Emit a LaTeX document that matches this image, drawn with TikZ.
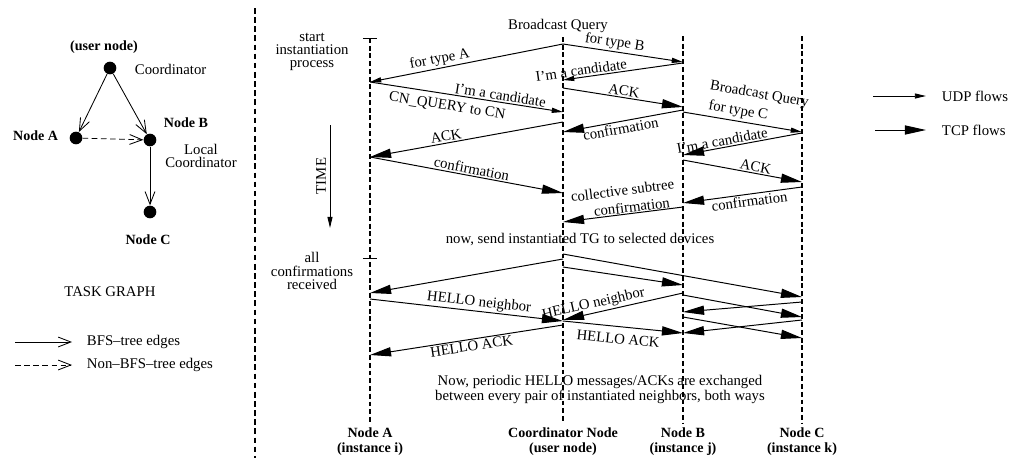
\documentclass[tikz,border=0pt]{standalone}
\usepackage{fontspec}
\setmainfont{Liberation Serif}
\usetikzlibrary{arrows.meta,positioning}

\tikzset{
    lifeline/.style={line width=0.8pt, dash pattern=on 3.5pt off 2pt},
    separator/.style={line width=1.1pt, dash pattern=on 4pt off 2.5pt},
    udp/.style={line width=0.7pt, -{Triangle[length=8pt,width=3.6pt]}},
    tcp/.style={line width=0.7pt, -{Triangle[length=15pt,width=6.5pt]}},
    bfs/.style={line width=0.6pt, -{Straight Barb[length=9pt,width=7pt]}},
    nonbfs/.style={bfs, dash pattern=on 4pt off 2.5pt},
    taskdot/.style={circle, fill, inner sep=0pt, minimum size=9pt},
    msg/.style={sloped, inner sep=1pt},
    head/.style={font=\fontsize{10}{10.6}\bfseries\selectfont},
    note/.style={align=center, font=\fontsize{10.5}{9.5}\selectfont, inner sep=1pt},
}

\begin{document}
\begin{tikzpicture}[x=0.025cm, y=-0.025cm, font=\fontsize{10.5}{12}\selectfont]
    \useasboundingbox (0,0) rectangle (1013,461);

    %task graph
    \node[taskdot] (coord) at (110,68) {};
    \node[taskdot] (na) at (76,138) {};
    \node[taskdot] (nb) at (150,140) {};
    \node[taskdot] (nc) at (150,212) {};
    \node[head] (coordname) at (104,47) {(user node)};
    \node[anchor=west] (coordrole) at (130,69) {Coordinator};
    \node[head, anchor=east] (naname) at (63,136) {Node A};
    \node[head] (nbname) at (186,123) {Node B};
    \node[note] (nbrole) at (201,156) {Local\\Coordinator};
    \node[head] (ncname) at (148,240) {Node C};
    \draw[bfs] (coord) -- (na);
    \draw[bfs] (coord) -- (nb);
    \draw[nonbfs] (na) -- (nb);
    \draw[bfs] (nb) -- (nc);
    \node (taskgraph) at (110,292) {TASK GRAPH};

    %legend task graph
    \coordinate (bfs0) at (15,342);
    \coordinate (bfs1) at (72,342);
    \coordinate (nonbfs0) at (15,365);
    \coordinate (nonbfs1) at (72,365);
    \draw[bfs] (bfs0) -- (bfs1);
    \draw[nonbfs] (nonbfs0) -- (nonbfs1);
    \node[anchor=west] (bfslbl) at (82,342) {BFS–tree edges};
    \node[anchor=west] (nonbfslbl) at (82,365) {Non–BFS–tree edges};

    %separator
    \draw[separator] (255,8) -- (255,458);

    %lifelines
    \coordinate (A) at (370,38);
    \coordinate (CN) at (563,37);
    \coordinate (B) at (683,36);
    \coordinate (C) at (802,36);
    \node[head, align=center] (Aname) at (370,442) {Node A\\(instance i)};
    \node[head, align=center] (CNname) at (563,442) {Coordinator Node\\(user node)};
    \node[head, align=center] (Bname) at (683,442) {Node B\\(instance j)};
    \node[head, align=center] (Cname) at (802,442) {Node C\\(instance k)};
    \draw[lifeline] (A) -- (Aname.north);
    \draw[lifeline] (CN) -- (CNname.north);
    \draw[lifeline] (B) -- (Bname.north);
    \draw[lifeline] (C) -- (Cname.north);
    \draw ([xshift=-5pt]A) -- ([xshift=5pt]A);
    \coordinate (tick) at (A |- 0,258);
    \draw ([xshift=-5pt]tick) -- ([xshift=5pt]tick);

    %time
    \node[note] (startlbl) at (312,52) {start\\instantiation\\process};
    \node[note] (donelbl) at (312,271) {all\\confirmations\\received};
    \coordinate (time0) at (330,125);
    \coordinate (time1) at (330,228);
    \draw[udp] (time0) -- (time1);
    \node[rotate=90] (timelbl) at (321,176) {TIME};

    %instantiation
    \node (bquery) at (558,26) {Broadcast Query};
    \draw[udp] (CN |- 0,44) -- node[msg, pos=.63, above] {for type A} (A |- 0,82);
    \draw[udp] (CN |- 0,44) -- node[msg, pos=.42, above] {for type B} (B |- 0,62);
    \draw[udp] (B |- 0,63) -- node[msg, pos=.84, above] {I'm a candidate} (CN |- 0,80);
    \draw[tcp] (CN |- 0,88) -- node[msg, pos=.5, above] {ACK} (B |- 0,107);
    \draw[udp] (A |- 0,82) -- node[msg, pos=.67, above] {I'm a candidate} node[msg, pos=.41, below=3pt] {CN\_QUERY to CN} (CN |- 0,112);
    \draw[tcp] (CN |- 0,122) -- node[msg, pos=.6, above] {ACK} (A |- 0,157);
    \draw[tcp] (B |- 0,110) -- node[msg, pos=.53, below] {confirmation} (CN |- 0,132);
    \draw[udp] (B |- 0,112) -- node[msg, pos=.45, above=2pt, inner sep=0pt] {for type C} node[msg, pos=.6, above=16pt, inner sep=0pt] {Broadcast Query} (C |- 0,132);
    \draw[tcp] (C |- 0,133) -- node[msg, pos=.66, above] {I'm a candidate} (B |- 0,155);
    \draw[tcp] (B |- 0,160) -- node[msg, pos=.6, above] {ACK} (C |- 0,182);
    \draw[tcp] (C |- 0,187) -- node[msg, pos=.45, below] {confirmation} (B |- 0,203);
    \draw[tcp] (B |- 0,207) -- node[msg, pos=.42, above=0.5pt, inner sep=0pt] {confirmation} node[msg, pos=.48, above=13pt, inner sep=0pt] {collective subtree} (CN |- 0,222);
    \draw[tcp] (A |- 0,157) -- node[msg, pos=.52, above] {confirmation} (CN |- 0,193);
    \node (sendlbl) at (580,240) {now, send instantiated TG to selected devices};

    %hello phase
    \draw[tcp] (CN |- 0,259) -- (A |- 0,293);
    \draw[tcp] (A |- 0,299) -- node[msg, pos=.56, above] {HELLO neighbor} (CN |- 0,321);
    \draw[tcp] (CN |- 0,254) -- (C |- 0,297);
    \draw[tcp] (CN |- 0,267) -- (B |- 0,285);
    \draw[tcp] (B |- 0,293) -- node[msg, pos=.73, above] {HELLO neighbor} (CN |- 0,320);
    \draw[tcp] (CN |- 0,321) -- node[msg, pos=.47, below=4pt] {HELLO ACK} (B |- 0,333);
    \draw[tcp] (CN |- 0,325) -- node[msg, pos=.48, below] {HELLO ACK} (A |- 0,355);
    \draw[tcp] (B |- 0,295) -- (C |- 0,317);
    \draw[tcp] (C |- 0,302) -- (B |- 0,312);
    \draw[tcp] (B |- 0,317) -- (C |- 0,338);
    \draw[tcp] (C |- 0,320) -- (B |- 0,333);
    \node[note] (periodiclbl) at (600,389) {Now, periodic HELLO messages/ACKs are exchanged\\between every pair of instantiated neighbors, both ways};

    %legend flows
    \coordinate (udp0) at (873,96);
    \coordinate (udp1) at (926,96);
    \coordinate (tcp0) at (875,130);
    \coordinate (tcp1) at (926,130);
    \draw[udp] (udp0) -- (udp1);
    \draw[tcp] (tcp0) -- (tcp1);
    \node[anchor=west] (udplbl) at (937,96) {UDP flows};
    \node[anchor=west] (tcplbl) at (937,130) {TCP flows};
\end{tikzpicture}
\end{document}
